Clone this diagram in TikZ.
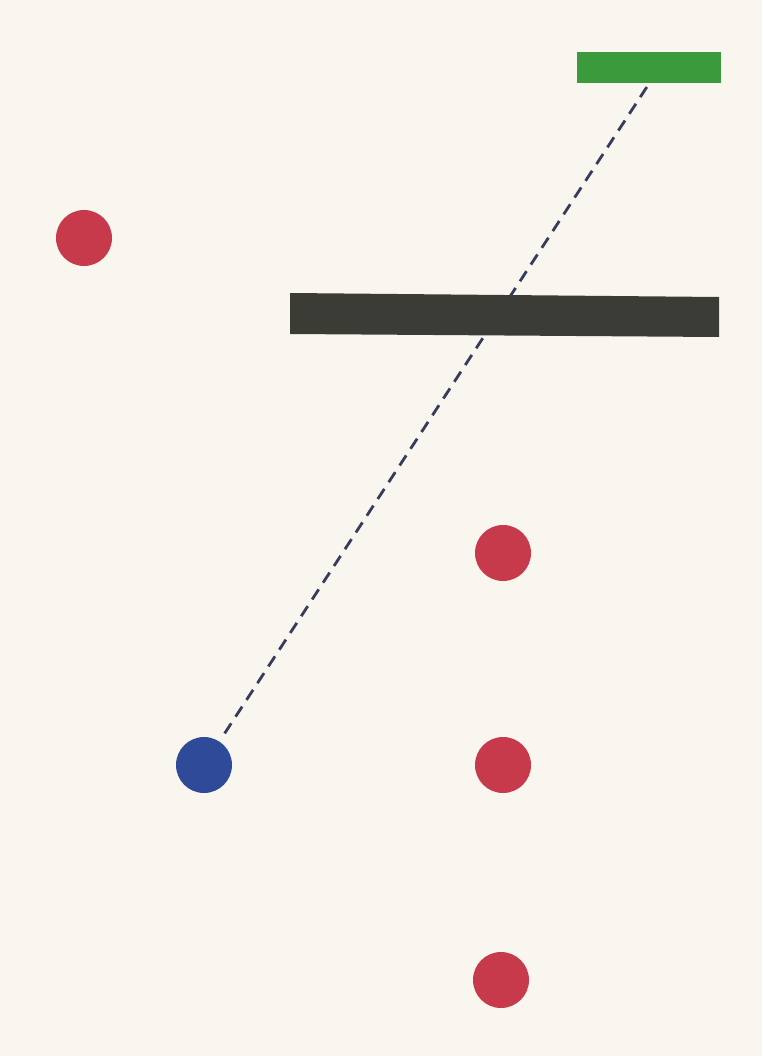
\documentclass[tikz,border=0pt]{standalone}
\definecolor{paper}{HTML}{F8F6EE}
\definecolor{redc}{HTML}{C73A4B}
\definecolor{bluec}{HTML}{2F4A98}
\definecolor{greenc}{HTML}{3A9A3C}
\definecolor{barc}{HTML}{3C3C37}
\definecolor{dashc}{HTML}{373C5C}
\begin{document}
\begin{tikzpicture}[x=1pt,y=-1pt,
  dot/.style={circle,minimum size=56pt,inner sep=0pt,draw=none},
  reddot/.style={dot,fill=redc},
  bluedot/.style={dot,fill=bluec},
  link/.style={draw=dashc,line width=2.8pt,dash pattern=on 12pt off 8pt}]
\fill[paper] (0,0) rectangle (762,1056);
\useasboundingbox (0,0) rectangle (762,1056);
\node[fill=greenc,minimum width=144pt,minimum height=31pt,inner sep=0pt] (green) at (649,68) {};
\node[bluedot] (blue) at (204,765) {};
\draw[link,shorten <=4pt,shorten >=2pt] (green.south) -- (blue);
\fill[barc] (290,293) -- (719,297) -- (719,337) -- (290,334) -- cycle;
\node[reddot] (r1) at (84,238) {};
\node[reddot] (r2) at (503,553) {};
\node[reddot] (r3) at (503,765) {};
\node[reddot] (r4) at (501,980) {};
\end{tikzpicture}
\end{document}
